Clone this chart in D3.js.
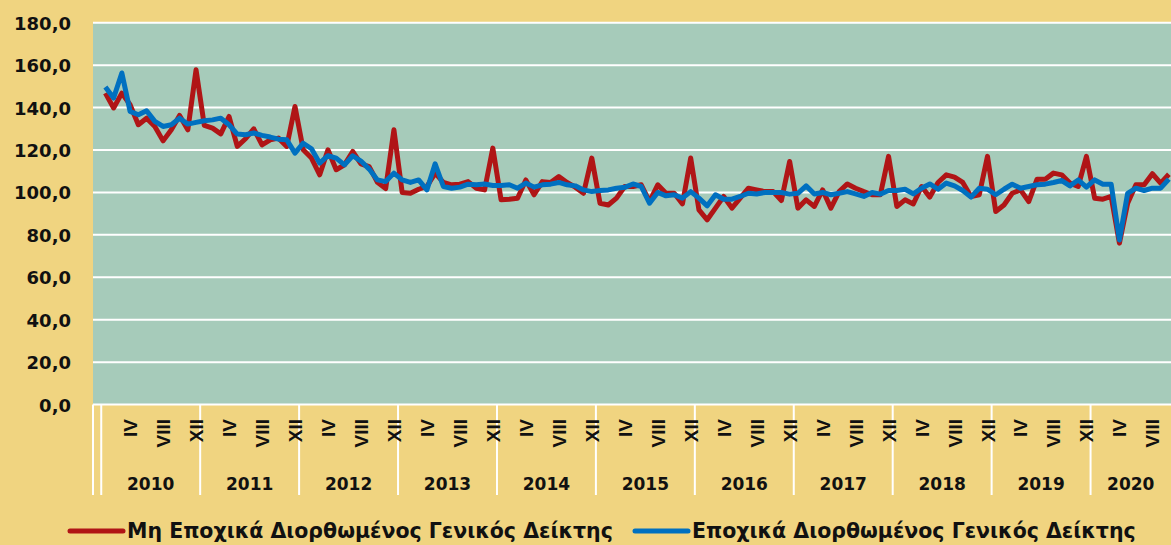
<!DOCTYPE html>
<html>
<head>
<meta charset="utf-8">
<script src="https://cdn.jsdelivr.net/npm/d3@7"></script>
<style>
  body { margin: 0; background: #F0D480; }
  svg { display: block; }
</style>
</head>
<body>
<div id="plot"></div>
<script>
// years and month labels shown under the axis
var years = ["2010", "2011", "2012", "2013", "2014", "2015", "2016", "2017", "2018", "2019", "2020"]
var monthLabels = {4: "IV", 8: "VIII", 12: "XII"}
var yTicks = [0, 20, 40, 60, 80, 100, 120, 140, 160, 180]

// not seasonally adjusted general index, Jan 2010 - Oct 2020
var nsaValues = [
  146.8, 139.8, 146.8, 141.3, 131.9, 135.0, 131.1, 124.3, 129.5, 136.3, 129.5, 157.8,
  131.6, 130.3, 127.6, 135.8, 121.7, 125.3, 130.0, 122.4, 124.8, 125.6, 121.7, 140.5,
  120.1, 116.2, 108.3, 120.1, 110.7, 113.0, 119.3, 113.5, 112.2, 104.8, 101.8, 129.5,
  100.0, 99.6, 101.5, 102.8, 109.1, 104.7, 103.6, 103.9, 105.1, 102.0, 101.2, 120.9,
  96.5, 96.8, 97.3, 105.9, 98.9, 105.1, 104.7, 107.5, 104.7, 102.5, 99.6, 116.2,
  94.9, 94.1, 97.3, 102.8, 102.8, 103.6, 95.7, 103.6, 99.6, 99.6, 94.6, 116.2,
  91.8, 87.1, 92.6, 98.1, 92.6, 97.3, 102.0, 101.2, 100.4, 100.4, 96.2, 114.6,
  92.6, 96.5, 93.4, 101.2, 92.6, 100.4, 104.0, 102.0, 100.4, 98.9, 98.9, 117.0,
  93.4, 96.5, 94.6, 102.8, 97.8, 104.7, 108.3, 107.2, 104.7, 98.1, 98.9, 117.0,
  91.0, 94.1, 99.6, 101.2, 95.7, 106.2, 106.2, 109.1, 108.3, 104.4, 102.8, 117.0,
  97.3, 96.8, 98.1, 76.1, 94.9, 103.6, 103.6, 108.8, 104.4, 108.6
]

// seasonally adjusted general index, Jan 2010 - Oct 2020
var saValues = [
  149.7, 144.5, 156.3, 138.2, 136.6, 138.5, 133.5, 131.1, 131.9, 135.0, 132.2, 133.0,
  133.8, 134.2, 135.0, 131.9, 127.5, 127.2, 128.0, 126.9, 126.1, 125.1, 124.8, 118.5,
  123.2, 120.6, 113.8, 117.3, 116.2, 113.0, 117.3, 114.8, 111.0, 105.9, 105.1, 109.1,
  105.9, 104.7, 105.9, 101.2, 113.5, 102.8, 102.0, 102.5, 103.9, 103.6, 104.0, 103.3,
  103.3, 103.6, 102.0, 104.4, 102.5, 103.6, 103.9, 104.7, 103.6, 103.1, 101.2, 100.4,
  100.9, 101.2, 102.0, 102.4, 104.0, 102.8, 94.9, 100.0, 98.4, 98.9, 97.3, 100.4,
  97.3, 93.7, 98.9, 96.8, 96.8, 98.1, 99.6, 99.3, 100.0, 100.0, 100.0, 99.2,
  99.6, 103.1, 99.3, 100.0, 98.9, 99.6, 100.4, 99.3, 98.1, 100.0, 99.2, 100.9,
  100.9, 101.5, 99.3, 102.0, 104.0, 101.5, 104.4, 103.1, 100.9, 97.8, 102.0, 101.5,
  98.9, 101.5, 103.9, 102.0, 102.8, 103.6, 103.9, 104.7, 105.6, 103.1, 105.9, 102.5,
  105.9, 103.9, 103.9, 77.6, 99.6, 102.0, 100.9, 102.0, 102.0, 106.3
]

var seriesNames = ["Μη Εποχικά Διορθωμένος Γενικός Δείκτης", "Εποχικά Διορθωμένος Γενικός Δείκτης"]
var seriesColors = ["#B01516", "#0070C0"]

// build category keys: one empty slot, then every month
var cats = ["blank"]
var points = []
nsaValues.forEach(function(v, i) {
    var key = years[Math.floor(i / 12)] + "-" + ((i % 12) + 1)
    cats.push(key)
    points.push({key: key, month: (i % 12) + 1, nsa: v, sa: saValues[i]})
})

var width = 1171, height = 545

var svg = d3.select("#plot")
  .append("svg")
    .attr("width", width)
    .attr("height", height)

svg.append("rect")
    .attr("width", width)
    .attr("height", height)
    .attr("fill", "#F0D480")

var x = d3.scaleBand()
    .domain(cats)
    .range([93, 1173])
    .padding(0)

var y = d3.scaleLinear()
    .domain([0, 180])
    .range([404.6, 22.7])

// plot area
svg.append("rect")
    .attr("x", x.range()[0])
    .attr("y", y(180))
    .attr("width", x.range()[1] - x.range()[0])
    .attr("height", y(0) - y(180))
    .attr("fill", "#A6CBBA")

// horizontal grid
svg.append("g")
  .selectAll("line")
  .data(yTicks)
  .enter()
  .append("line")
    .attr("x1", x.range()[0])
    .attr("x2", x.range()[1])
    .attr("y1", d => y(d))
    .attr("y2", d => y(d))
    .attr("stroke", "#fff")
    .attr("stroke-width", 2)

// y tick labels
svg.append("g")
  .selectAll("text")
  .data(yTicks)
  .enter()
  .append("text")
    .attr("x", 71)
    .attr("y", d => y(d) + 7)
    .attr("text-anchor", "end")
    .style("font-family", "DejaVu Sans")
    .style("font-weight", "bold")
    .style("font-size", "18px")
    .attr("fill", "#111")
    .text(d => d3.format(".1f")(d).replace(".", ","))

// year separators under the axis
var sepX = [x.range()[0], x("2010-1")].concat(years.slice(1).map(yr => x(yr + "-1")))
svg.append("g")
  .selectAll("line")
  .data(sepX)
  .enter()
  .append("line")
    .attr("x1", d => d)
    .attr("x2", d => d)
    .attr("y1", y(0))
    .attr("y2", 495)
    .attr("stroke", "#fff")
    .attr("stroke-width", 2)

// month labels (rotated)
svg.append("g")
  .selectAll("text")
  .data(points.filter(d => monthLabels[d.month]))
  .enter()
  .append("text")
    .attr("transform", d => "translate(" + (x(d.key) + x.bandwidth() / 2 + 7) + ",419) rotate(-90)")
    .attr("text-anchor", "end")
    .style("font-family", "Liberation Sans")
    .style("font-weight", "bold")
    .style("font-size", "19px")
    .attr("fill", "#111")
    .text(d => monthLabels[d.month])

// year labels
svg.append("g")
  .selectAll("text")
  .data(years)
  .enter()
  .append("text")
    .attr("x", function(yr, i) {
        var start = x(yr + "-1")
        var end = i < years.length - 1 ? x(years[i + 1] + "-1") : width
        return (start + end) / 2
    })
    .attr("y", 490)
    .attr("text-anchor", "middle")
    .style("font-family", "DejaVu Sans")
    .style("font-weight", "bold")
    .style("font-size", "17px")
    .attr("fill", "#111")
    .text(d => d)

// lines
var lineNsa = d3.line()
    .x(d => x(d.key) + x.bandwidth() / 2)
    .y(d => y(d.nsa))

var lineSa = d3.line()
    .x(d => x(d.key) + x.bandwidth() / 2)
    .y(d => y(d.sa))

svg.append("path")
    .datum(points)
    .attr("d", lineNsa)
    .attr("fill", "none")
    .attr("stroke", seriesColors[0])
    .attr("stroke-width", 5)
    .attr("stroke-linejoin", "round")

svg.append("path")
    .datum(points)
    .attr("d", lineSa)
    .attr("fill", "none")
    .attr("stroke", seriesColors[1])
    .attr("stroke-width", 5)
    .attr("stroke-linejoin", "round")

// legend
var legendX = [68, 633]
var legend = svg.append("g")
  .selectAll("g")
  .data(seriesNames)
  .enter()
  .append("g")
    .attr("transform", (d, i) => "translate(" + legendX[i] + ",531)")

legend.append("line")
    .attr("x1", 2)
    .attr("x2", 55)
    .attr("stroke", (d, i) => seriesColors[i])
    .attr("stroke-width", 5)
    .attr("stroke-linecap", "round")

legend.append("text")
    .attr("x", 59)
    .attr("y", 7)
    .style("font-family", "DejaVu Sans")
    .style("font-weight", "bold")
    .style("font-size", "20.5px")
    .attr("fill", "#111")
    .text(d => d)
</script>
</body>
</html>
